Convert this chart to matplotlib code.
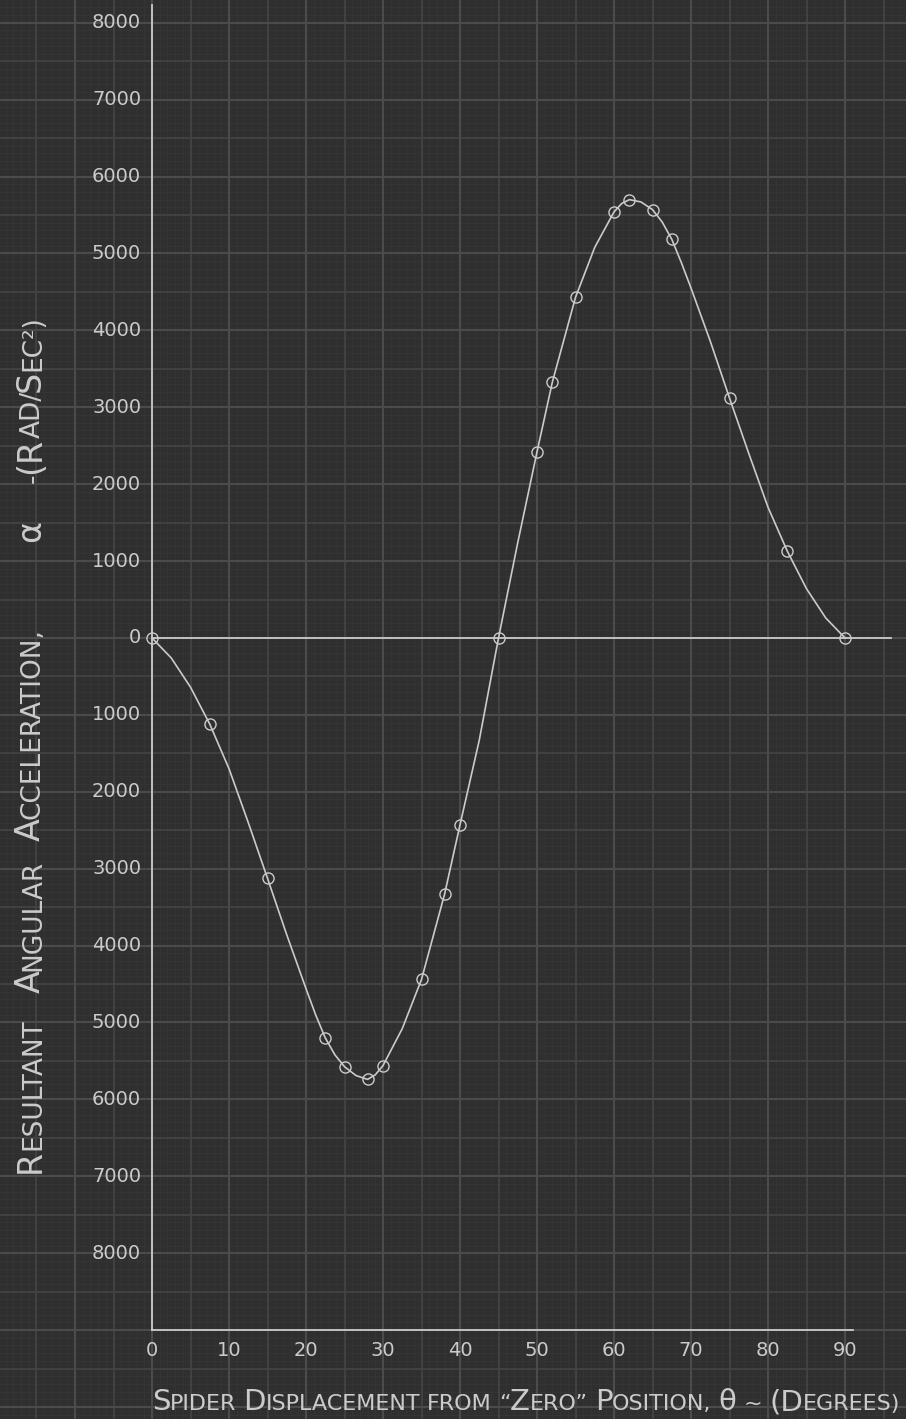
import numpy as np
import matplotlib
matplotlib.use("Agg")
from matplotlib import pyplot as plt
from matplotlib.transforms import IdentityTransform

# plotted points (circles)
theta_pts = [0, 7.5, 15, 22.5, 25, 28, 30, 35, 38, 40, 45,
             50, 52, 55, 60, 62, 65, 67.5, 75, 82.5, 90]
alpha_pts = [0, -1120, -3125, -5200, -5575, -5740, -5560, -4440, -3330, -2430, 0,
             2420, 3330, 4430, 5540, 5700, 5570, 5185, 3120, 1135, 0]

# the faired curve, read at more places along the drawn line
theta_curve = [0, 2.5, 5, 7.5, 10, 12.5, 15, 17.5, 20, 21.25, 22.5, 23.75, 25, 26.5, 28,
               29, 30, 32.5, 35, 38, 40, 42.5, 45, 47.5, 50, 52, 55, 57.5, 60, 61, 62,
               63.5, 65, 66.25, 67.5, 68.75, 70, 72.5, 75, 77.5, 80, 82.5, 85, 87.5, 90]
alpha_curve = [0, -260, -640, -1120, -1700, -2400, -3125, -3860, -4560, -4900, -5200,
               -5420, -5575, -5690, -5740, -5680, -5560, -5080, -4440, -3330, -2430,
               -1330, 0, 1240, 2420, 3330, 4430, 5080, 5540, 5650, 5700, 5670, 5570,
               5410, 5185, 4880, 4550, 3860, 3120, 2400, 1700, 1130, 640, 260, 0]

x_ticks = [0, 10, 20, 30, 40, 50, 60, 70, 80, 90]
y_ticks = [8000, 7000, 6000, 5000, 4000, 3000, 2000, 1000, 0,
           -1000, -2000, -3000, -4000, -5000, -6000, -7000, -8000]
y_labels = ['8000', '7000', '6000', '5000', '4000', '3000', '2000', '1000', '0',
            '1000', '2000', '3000', '4000', '5000', '6000', '7000', '8000']

x_title = 'Spider Displacement from \u201cZero\u201d Position, \u03b8 ~ (Degrees)'
y_title = 'Resultant Angular Acceleration, \u03b1 -(Rad/Sec\u00b2)'

bg = '#2f2f2f'
ink = '#cbcbcb'

fig = plt.figure(figsize=(9.06, 14.19), dpi=100, facecolor=bg)
ax = fig.add_axes([0, 0, 1, 1], facecolor=bg)
ax.set_xlim(-19.74, 97.92)
ax.set_ylim(-10156, 8296)

# graph paper
for v in np.arange(-19, 98, 1):
    ax.axvline(v, color='#363636', lw=0.6, zorder=0)
for v in np.arange(-10100, 8300, 100):
    ax.axhline(v, color='#363636', lw=0.6, zorder=0)
for v in np.arange(-15, 98, 5):
    ax.axvline(v, color='#444444', lw=1.2, zorder=0)
for v in np.arange(-10000, 8300, 500):
    ax.axhline(v, color='#444444', lw=1.2, zorder=0)
for v in np.arange(-10, 98, 10):
    ax.axvline(v, color='#4b4b4b', lw=1.5, zorder=0)
for v in np.arange(-10000, 8300, 1000):
    ax.axhline(v, color='#4b4b4b', lw=1.5, zorder=0)

# axes lines
ax.plot([0, 0], [-9000, 8230], color=ink, lw=1.3)
ax.plot([0, 91], [-9000, -9000], color=ink, lw=1.3)
ax.plot([0, 96], [0, 0], color=ink, lw=1.3)

# curve and points
ax.plot(theta_curve, alpha_curve, color=ink, lw=1.2)
ax.plot(theta_pts, alpha_pts, 'o', ms=8, mfc='none', mec=ink, mew=1.0)

for t in x_ticks:
    ax.text(t, -9260, str(t), color=ink, fontsize=14, ha='center', va='center')
for v, s in zip(y_ticks, y_labels):
    ax.text(-1.4, v, s, color=ink, fontsize=14, ha='right', va='center')


def small_caps(text, x0, y0, length, big, small, rot=0, kern=-0.5, weights=None):
    # lettering in small caps, spread out to the given length (pixels)
    renderer = fig.canvas.get_renderer()
    words = []
    for w in text.split(' '):
        runs = []
        for ch in w:
            if ch in '\u03b1\u03b8(':
                kind, c = 'big', ch
            elif ch.isalpha() and ch.islower():
                kind, c = 'small', ch.upper()
            elif ch.isalpha():
                kind, c = 'big', ch
            else:
                kind, c = 'small', ch
            if runs and runs[-1][0] == kind:
                runs[-1][1] += c
            else:
                runs.append([kind, c])
        items = []
        for kind, s in runs:
            t = ax.text(0, 0, s, transform=IdentityTransform(), color=ink,
                        fontsize=big if kind == 'big' else small, rotation=rot,
                        rotation_mode='anchor', ha='left', va='baseline')
            bb = t.get_window_extent(renderer)
            items.append((t, bb.width if rot == 0 else bb.height))
        words.append(items)
    natural = sum(a for w in words for _, a in w) + kern * sum(len(w) - 1 for w in words)
    if weights is None:
        weights = [1] * (len(words) - 1)
    gaps = [(length - natural) * g / sum(weights) for g in weights] + [0]
    pos = 0
    for w, gap in zip(words, gaps):
        for t, a in w:
            t.set_position((x0 + pos, y0) if rot == 0 else (x0, y0 + pos))
            pos += a + kern
        pos += gap - kern


H = 1419
small_caps(x_title, 152, H - 1410, 748, 21, 16, rot=0)
small_caps(y_title, 40, H - 1173, 858, 24, 19, rot=90, weights=[14, 10, 47, 20])

ax.axis('off')
fig.savefig('out.png', dpi=100, facecolor=bg)
